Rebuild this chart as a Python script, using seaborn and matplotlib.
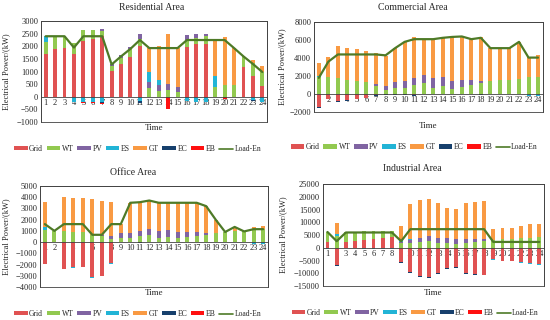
import numpy as np
import seaborn as sns
import matplotlib.pyplot as plt
from matplotlib.patches import Patch
from matplotlib.lines import Line2D

# hours
hours = list(range(1, 25))

# Residential area (kW)
res_grid = [1680, 1880, 1930, 1700, 2220, 2300, 2400, 1020, 1300, 1580, 2030, 0, 0, 0, 0, 1980, 2080, 2080, 0, 0, 0, 1180, 820, 430]
res_wt = [490, 520, 470, 450, 430, 350, 200, 180, 230, 300, 250, 350, 220, 270, 170, 220, 250, 340, 400, 450, 470, 440, 530, 550]
res_pv = [0, 0, 0, 0, 0, 0, 100, 100, 120, 100, 220, 230, 240, 230, 230, 230, 150, 60, 0, 0, 0, 0, 0, 0]
res_es = [230, 0, 0, -200, -200, -200, -200, 0, 0, 0, -150, 400, 220, 0, 0, -150, -200, -200, 430, 0, 0, 0, -120, -200]
res_gt = [0, 0, 0, 0, 0, 0, 0, 0, 0, 0, 0, 970, 1320, 2000, 1550, 0, 0, 0, 1420, 1930, 1480, 0, 100, 240]
res_ec = [0, 0, 0, 0, 0, 0, -50, 0, -20, 0, -80, -20, 0, 0, 0, 0, 0, 0, 0, 0, 0, -30, -40, 0]
res_eb = [0, 0, 0, 0, -30, -30, -50, 0, 0, 0, 0, 0, 0, -500, 0, 0, 0, 0, 0, -100, 0, 0, 0, 0]
res_load = [2400, 2400, 2400, 1950, 2400, 2400, 2400, 1280, 1600, 1900, 2250, 1930, 1930, 1930, 1930, 2250, 2250, 2250, 2250, 2250, 1930, 1600, 1300, 980]

# Commercial area (kW)
com_grid = [-1400, -500, -800, -650, -500, -400, -100, 0, 0, 0, -100, 0, 0, 0, 0, 0, 0, 0, 0, 0, 0, 0, 0, 0]
com_wt = [1900, 1900, 1750, 1550, 1450, 1300, 850, 450, 650, 650, 950, 1200, 700, 850, 550, 750, 950, 1200, 1400, 1550, 1600, 1700, 1850, 1900]
com_pv = [0, 0, 0, 0, 0, 0, 250, 400, 650, 800, 800, 900, 1050, 1000, 950, 850, 600, 250, 0, 0, 0, 0, 0, 0]
com_es = [150, -50, 0, 0, -50, -50, 0, 0, 0, 0, 0, 0, 0, 0, 0, 0, 0, 0, 0, 0, 0, 0, -200, -250]
com_gt = [1350, 2200, 3550, 3550, 3600, 3500, 3500, 3350, 3800, 4350, 4550, 4000, 4350, 4350, 4950, 4800, 4550, 4850, 3700, 3550, 3500, 4100, 2250, 2450]
com_ec = [-100, 0, -100, -100, 0, 0, -100, -100, -100, -100, -150, -50, -50, -50, -50, -50, -50, -100, 0, 0, 0, 0, 0, 0]
com_eb = [0] * 24
com_load = [1800, 3600, 4400, 4400, 4400, 4400, 4400, 4300, 5100, 5800, 6100, 6100, 6100, 6250, 6350, 6400, 6100, 6250, 5100, 5100, 5100, 5800, 4050, 4050]

# Office area (kW)
off_grid = [-1950, 0, -2350, -2250, -2200, -3100, -3000, -1900, 0, 0, 0, 0, 0, 0, 0, 0, 0, 0, 0, 0, 0, 0, 0, 0]
off_wt = [1050, 1000, 950, 900, 900, 600, 550, 250, 400, 400, 550, 650, 400, 450, 350, 450, 550, 650, 800, 900, 1000, 950, 1100, 1200]
off_pv = [0, 0, 0, 0, 0, 0, 50, 300, 400, 400, 450, 550, 600, 600, 550, 450, 350, 200, 0, 0, 0, 0, 0, 0]
off_es = [250, 0, 0, -50, -50, -60, -60, -60, 0, 0, 0, 0, 0, 0, 0, 0, 0, 0, 0, 0, 0, 0, -150, -200]
off_gt = [2250, 0, 3050, 3050, 3000, 3200, 3100, 3000, 800, 2700, 2500, 2500, 2500, 2450, 2600, 2600, 2600, 2400, 1200, 0, 300, 0, 200, 200]
off_ec = [0, 0, 0, 0, 0, 0, 0, 0, 0, 0, -50, 0, 0, 0, 0, 0, 0, 0, 0, 0, 0, 0, 0, 0]
off_eb = [0] * 24
off_load = [1600, 1000, 1600, 1600, 1600, 650, 650, 1600, 1600, 3500, 3550, 3700, 3500, 3500, 3500, 3500, 3500, 3200, 2000, 900, 1350, 950, 1150, 1150]

# Industrial area (kW)
ind_grid = [2300, -6800, 2300, 2700, 3100, 3500, 4000, 4300, -5500, -9500, -11000, -11600, -9800, -8100, -7600, -9800, -10300, -10500, -4500, -5000, -5000, -5500, -6000, -6300]
ind_wt = [4000, 4500, 3700, 3300, 3300, 2900, 2500, 2100, 1800, 2000, 2300, 2700, 1900, 2000, 1500, 2000, 2200, 2600, 3100, 3300, 3500, 3800, 4000, 4300]
ind_pv = [0, 0, 0, 0, 0, 0, 0, 0, 500, 1000, 1700, 2000, 1900, 2000, 1900, 1500, 1200, 700, 0, 0, 0, 0, 0, 0]
ind_es = [-500, 1000, 0, 0, -500, -400, -400, -400, 700, 500, 0, 0, 0, 0, 0, 0, 0, 0, -300, -300, -300, -300, -500, -500]
ind_gt = [0, 4200, 0, 0, 0, 0, 0, 0, 5500, 13500, 14800, 14500, 13700, 11700, 11900, 14000, 14600, 14900, 4300, 4600, 4400, 4700, 5300, 5100]
ind_ec = [0, -300, 0, 0, 0, 0, 0, 0, -300, -300, -300, -300, -300, -300, -300, -300, -300, -300, 0, 0, 0, 0, 0, 0]
ind_eb = [0] * 24
ind_load = [6200, 2600, 6000, 6000, 6000, 6000, 6000, 6000, 2600, 7300, 7300, 7300, 7300, 7300, 7300, 7300, 7300, 7300, 2300, 2300, 2300, 2300, 2300, 2300]

series_names = ["Grid", "WT", "PV", "ES", "GT", "EC", "EB"]
colors = ["#E05252", "#92C950", "#8064A2", "#22B4D6", "#F99A43", "#17406D", "#FF1010"]
line_color = "#4E7A27"

sns.set_theme(style="white")
plt.rcParams["font.family"] = ["Liberation Serif", "DejaVu Serif"]

fig = plt.figure(figsize=(5.5, 3.2), dpi=100)

panels = [
    dict(title="Residential Area", data=[res_grid, res_wt, res_pv, res_es, res_gt, res_ec, res_eb], load=res_load,
         rect=[0.0745, 0.619, 0.411, 0.315], ylim=(-1000, 3000), step=500,
         title_xy=(0.275, 0.978), leg_xy=(0.25, 0.534), time_y=-0.06, ylab_x=-0.135),
    dict(title="Commercial Area", data=[com_grid, com_wt, com_pv, com_es, com_gt, com_ec, com_eb], load=com_load,
         rect=[0.571, 0.65, 0.416, 0.281], ylim=(-2000, 8000), step=2000,
         title_xy=(0.75, 0.978), leg_xy=(0.753, 0.54), time_y=-0.155, ylab_x=-0.12),
    dict(title="Office Area", data=[off_grid, off_wt, off_pv, off_es, off_gt, off_ec, off_eb], load=off_load,
         rect=[0.073, 0.103, 0.414, 0.316], ylim=(-4000, 5000), step=1000,
         title_xy=(0.242, 0.462), leg_xy=(0.25, 0.019), time_y=-0.06, ylab_x=-0.13),
    dict(title="Industrial Area", data=[ind_grid, ind_wt, ind_pv, ind_es, ind_gt, ind_ec, ind_eb], load=ind_load,
         rect=[0.587, 0.106, 0.402, 0.319], ylim=(-15000, 25000), step=5000,
         title_xy=(0.75, 0.472), leg_xy=(0.755, 0.022), time_y=-0.07, ylab_x=-0.16),
]

x = np.array(hours)
for p in panels:
    ax = fig.add_axes(p["rect"])
    pos_base = np.zeros(24)
    neg_base = np.zeros(24)
    for vals, c in zip(p["data"], colors):
        v = np.array(vals, dtype=float)
        pos = np.where(v > 0, v, 0)
        neg = np.where(v < 0, v, 0)
        ax.bar(x, pos, bottom=pos_base, width=0.42, color=c, linewidth=0, zorder=2)
        ax.bar(x, neg, bottom=neg_base, width=0.42, color=c, linewidth=0, zorder=2)
        pos_base += pos
        neg_base += neg
    sns.lineplot(x=x, y=p["load"], ax=ax, color=line_color, linewidth=1.6, zorder=3, sort=False)

    ax.set_xlim(0.5, 24.5)
    ax.set_ylim(*p["ylim"])
    ax.set_yticks(np.arange(p["ylim"][0], p["ylim"][1] + 1, p["step"]))
    ax.set_xticks(x)
    ax.set_xticklabels([str(h) for h in hours])
    ax.set_xticks(x + 0.5, minor=True)
    ax.spines["bottom"].set_position(("data", 0))
    for s in ax.spines.values():
        s.set_color("#404040")
        s.set_linewidth(0.6)
    ax.patch.set_edgecolor("#404040")
    ax.patch.set_linewidth(0.6)
    ax.tick_params(axis="x", which="major", length=0, pad=1.5, labelsize=6)
    ax.tick_params(axis="x", which="minor", length=1.5, direction="in", color="#404040", width=0.5)
    ax.tick_params(axis="y", length=0, pad=2, labelsize=6)
    ax.set_ylabel("Electrical Power/(kW)", fontsize=6, labelpad=1)
    ax.yaxis.set_label_coords(p["ylab_x"], 0.5)
    ax.text(0.5, p["time_y"], "Time", transform=ax.transAxes, ha="center", va="center", fontsize=6.5)
    fig.text(p["title_xy"][0], p["title_xy"][1], p["title"], ha="center", va="center", fontsize=7)

    handles = [Patch(facecolor=c, edgecolor="none") for c in colors]
    handles.append(Line2D([0], [0], color=line_color, lw=1.2))
    fig.legend(handles, series_names + ["Load-En"], loc="center", bbox_to_anchor=p["leg_xy"],
               ncol=8, frameon=False, fontsize=5.5, handlelength=1.8, handleheight=0.45,
               handletextpad=0.2, columnspacing=0.45, borderpad=0.1)

fig.savefig("out.png", dpi=100)
